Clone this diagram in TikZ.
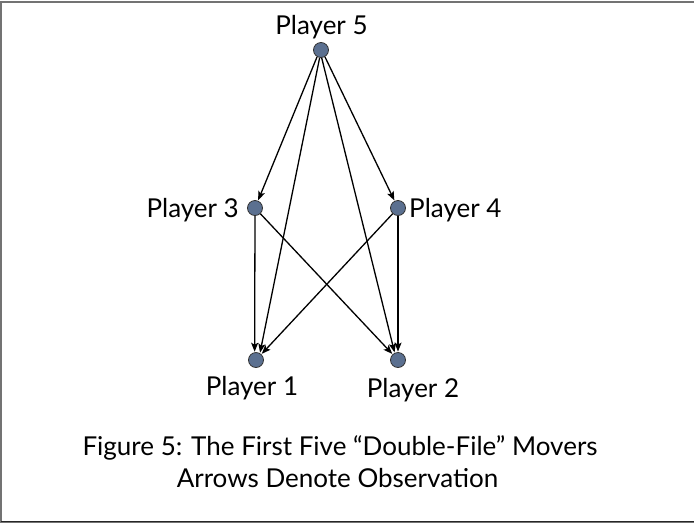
\documentclass[tikz,border=0pt]{standalone}
\usepackage{fontspec}
\setmainfont{Lato}
\usetikzlibrary{arrows.meta}
\definecolor{dotfill}{HTML}{5B7090}
\begin{document}
\begin{tikzpicture}[x=1pt,y=-1pt,
  player/.style={circle,draw=black!80,line width=0.8pt,fill=dotfill,minimum size=15pt,inner sep=0pt},
  lbl/.style={font=\fontsize{26}{30}\selectfont,inner sep=0pt,anchor=base},
  obs/.style={-{Stealth[length=9pt,width=7pt,inset=2pt]},line width=1.3pt,shorten >=0.5pt}]
\useasboundingbox (0,0) rectangle (694,523);
\draw[line width=2pt,black!55] (696,2) -- (1,2) -- (1,522) -- (696,522);
\draw[line width=1.4pt,black!85] (1,521.5) -- (696,521.5);
\node[player] (p5) at (321,50) {};
\node[player] (p3) at (255,208) {};
\node[player] (p4) at (398,208) {};
\node[player] (p1) at (256,360) {};
\node[player] (p2) at (398,360) {};
\node[lbl] (l5) at (321.5,34) {Player 5};
\node[lbl,anchor=base east] (l3) at (239,217) {Player 3};
\node[lbl,anchor=base west] (l4) at (409,217) {Player 4};
\node[lbl] (l1) at (252,395) {Player 1};
\node[lbl] (l2) at (413,397) {Player 2};
\node[lbl] (c1) at (340,455) {Figure 5: The First Five “Double-File” Movers};
\node[lbl] (c2) at (337.5,487) {Arrows Denote Observation};
\draw[obs] (p5.240) -- (p3);
\draw[obs] (p5.300) -- (p4);
\draw[obs] (p5.260) -- (p1.60);
\draw[obs] (p5.275) -- (p2.115);
\draw[obs] (p3.south) -- (p1.100);
\draw[obs] (p3) -- (p2);
\draw[obs] (p4) -- (p1);
\draw[obs] (p4.south) -- (p2.north);
\end{tikzpicture}
\end{document}
